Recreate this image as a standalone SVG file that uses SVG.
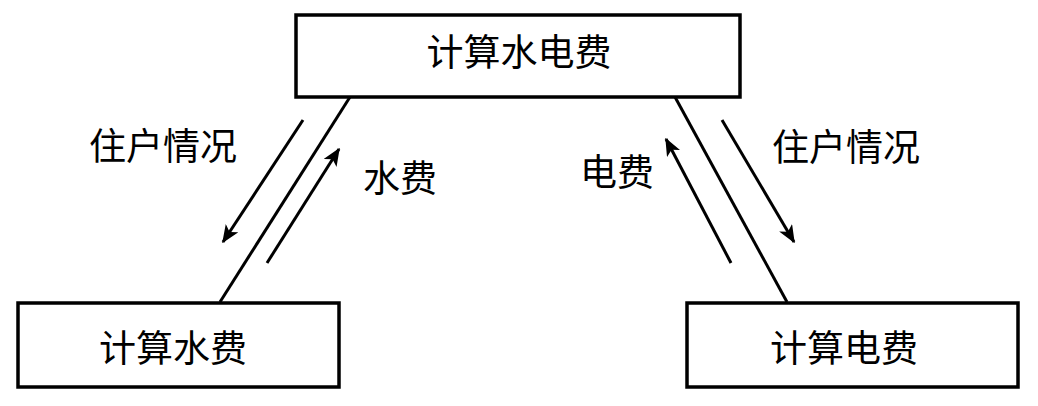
<svg xmlns="http://www.w3.org/2000/svg" width="1038" height="406" viewBox="0 0 1038 406">
<style>
.box{fill:#fff;stroke:#000;stroke-width:3.5}
.t{font-family:"Noto Sans CJK SC","Noto Sans",sans-serif;font-size:37px;fill:#000;text-anchor:middle}
.ln{stroke:#000;stroke-width:3;fill:none}
.ar{stroke:#000;stroke-width:3;fill:none;marker-end:url(#ah)}
</style>
<defs>
<marker id="ah" viewBox="0 0 12 10" refX="11" refY="5" markerWidth="6" markerHeight="5" markerUnits="strokeWidth" orient="auto">
<path d="M0,0 L12,5 L0,10 L3,5 Z" fill="#000"/>
</marker>
</defs>
<rect width="1038" height="406" fill="#fff"/>
<g id="connectors">
<line class="ln" x1="350" y1="97" x2="220" y2="302"/>
<line class="ar" x1="303" y1="120" x2="223" y2="242"/>
<line class="ar" x1="267" y1="263" x2="339" y2="149"/>
<line class="ln" x1="675" y1="97" x2="787" y2="302"/>
<line class="ar" x1="731" y1="263" x2="666" y2="139"/>
<line class="ar" x1="722" y1="120" x2="794" y2="242"/>
<text class="t" x="163" y="160">住户情况</text>
<text class="t" x="400" y="192">水费</text>
<text class="t" x="617" y="186">电费</text>
<text class="t" x="846" y="161">住户情况</text>
</g>
<g id="node-top">
<rect class="box" x="296" y="15" width="444" height="82"/>
<text class="t" x="519" y="66">计算水电费</text>
</g>
<g id="node-water">
<rect class="box" x="18" y="303" width="321" height="84"/>
<text class="t" x="173" y="362">计算水费</text>
</g>
<g id="node-elec">
<rect class="box" x="687" y="303" width="331" height="84"/>
<text class="t" x="844" y="362">计算电费</text>
</g>
</svg>
